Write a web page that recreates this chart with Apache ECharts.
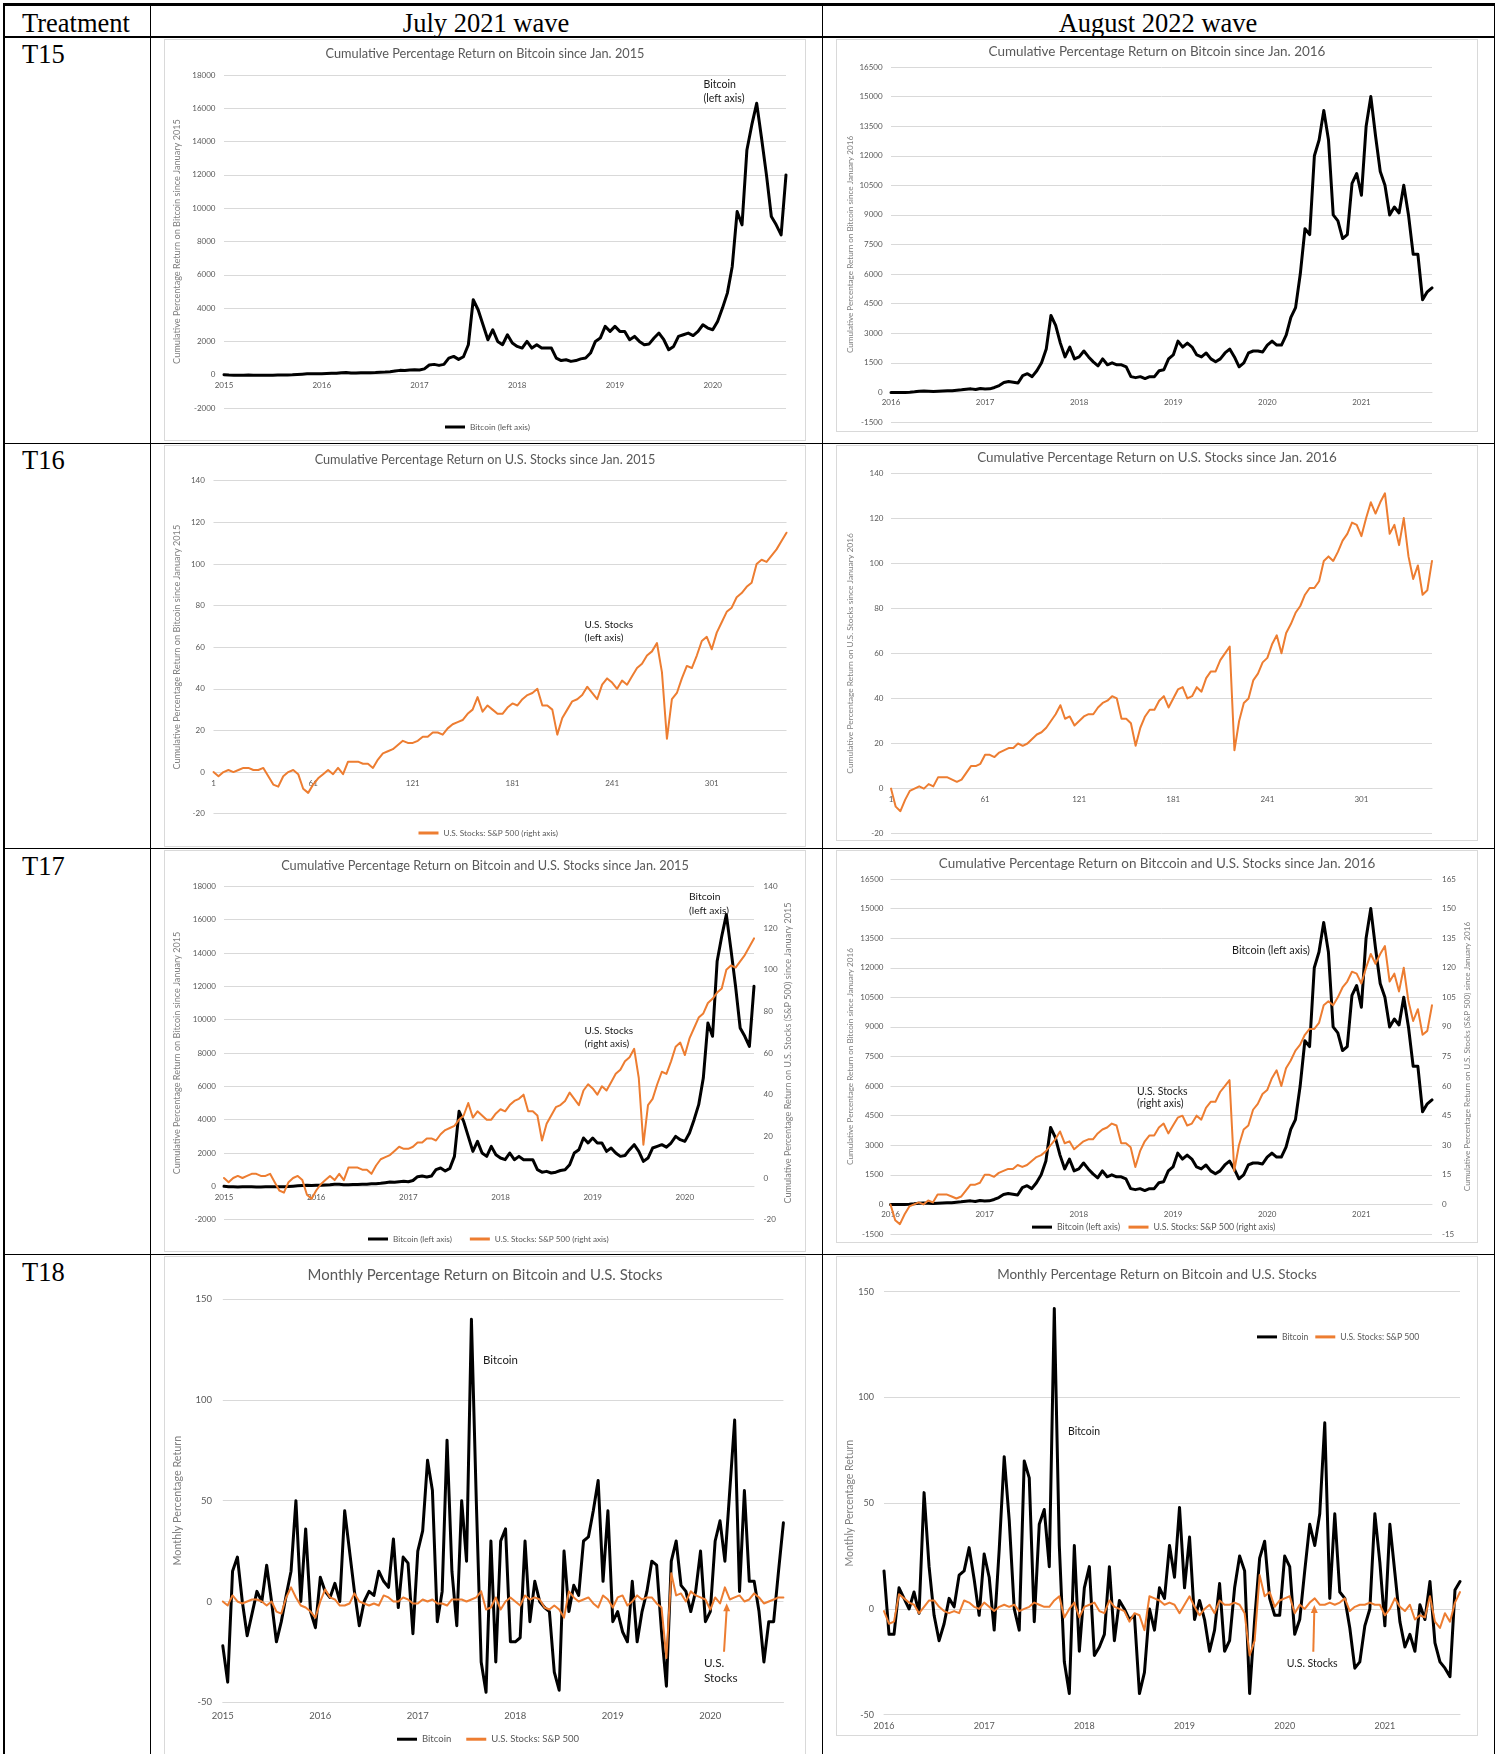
<!DOCTYPE html>
<html><head><meta charset="utf-8"><title>Bitcoin and U.S. Stocks treatments</title>
<script src="https://cdn.jsdelivr.net/npm/echarts@6.0.0/dist/echarts.min.js"></script>
<style>
html,body{margin:0;padding:0;background:#fff;}
body{width:1501px;height:1754px;position:relative;overflow:hidden;font-family:'Liberation Serif','Times New Roman',serif;}
.ln{position:absolute;background:#000;}
.tx{position:absolute;font-size:26.5px;line-height:26.5px;white-space:nowrap;color:#000;}
.bx{position:absolute;border:1px solid #d9d9d9;box-sizing:border-box;pointer-events:none;}
</style></head><body>
<div class="ln" style="left:3px;top:3px;width:1492px;height:3px"></div>
<div class="ln" style="left:3px;top:36px;width:1492px;height:1.5px"></div>
<div class="ln" style="left:3px;top:442.5px;width:1492px;height:1.5px"></div>
<div class="ln" style="left:3px;top:847.5px;width:1492px;height:1.5px"></div>
<div class="ln" style="left:3px;top:1253.5px;width:1492px;height:1.5px"></div>
<div class="ln" style="left:3px;top:3px;width:1.5px;height:1751px"></div>
<div class="ln" style="left:149.5px;top:3px;width:1.5px;height:1751px"></div>
<div class="ln" style="left:821.5px;top:3px;width:1.5px;height:1751px"></div>
<div class="ln" style="left:1493.5px;top:3px;width:1.5px;height:1751px"></div>
<div class="tx" style="left:22px;top:9.5px">Treatment</div>
<div class="tx" style="left:486px;top:9.5px;transform:translateX(-50%)">July 2021 wave</div>
<div class="tx" style="left:1158px;top:9.5px;transform:translateX(-50%)">August 2022 wave</div>
<div class="tx" style="left:22px;top:40.8px">T15</div>
<div class="tx" style="left:22px;top:447.4px">T16</div>
<div class="tx" style="left:22px;top:852.9px">T17</div>
<div class="tx" style="left:22px;top:1258.9px">T18</div>
<script>
const years2015 = ['2015','2016','2017','2018','2019','2020'];
const years2016 = ['2016','2017','2018','2019','2020','2021'];
const weekTicks = ['1','61','121','181','241','301'];

const btcCum2015 = [
0,-20,-30,-40,-30,-20,-30,-40,-35,-30,-30,-25,-25,-20,-10,10,30,50,60,50,
60,70,80,90,120,130,100,100,110,110,120,130,150,160,180,220,260,250,280,300,
280,350,580,620,560,620,1000,1100,920,1080,1800,4500,3900,3000,2100,2700,2000,1800,2400,1900,
1700,1600,2000,1600,1800,1600,1600,1600,1000,850,900,800,850,950,1000,1300,2000,2200,2900,2600,
2900,2600,2600,2100,2300,2000,1800,1850,2200,2500,2100,1500,1700,2300,2400,2500,2350,2600,3000,2800,
2700,3200,4000,4900,6500,9800,9000,13500,15000,16300,14200,12000,9500,9000,8400,12000];

const btcCum2016 = [
0,0,-10,0,10,30,60,70,60,50,60,70,80,90,110,130,160,180,150,200,
170,180,250,350,500,550,520,480,850,950,800,1100,1500,2200,3900,3400,2500,1800,2300,1700,
1800,2100,1800,1550,1350,1700,1400,1500,1400,1400,1300,800,750,800,700,800,800,1100,1150,1700,
1900,2600,2300,2500,2300,1900,1800,2000,1700,1550,1700,2000,2200,1800,1300,1500,2000,2100,2100,2050,
2400,2600,2400,2400,2900,3800,4300,6000,8300,8000,12000,12800,14300,12800,9000,8700,7800,8000,10600,11100,
10000,13500,15000,13000,11200,10500,9000,9400,9100,10500,9000,7000,7000,4700,5100,5300];

const spxCum2015 = [
0,-2,0,1,0,1,2,2,1,1,2,-2,-6,-7,-2,0,1,-1,-8,-10,
-6,-3,-1,1,-1,2,-1,5,5,5,4,4,2,6,9,10,11,13,15,14,
14,15,17,17,19,19,18,21,23,24,25,28,30,36,29,32,30,28,28,31,
33,32,35,37,38,40,32,32,30,18,26,30,34,35,37,41,38,35,42,45,
43,40,44,42,46,50,52,56,58,62,48,16,35,38,45,51,50,56,63,65,
59,67,72,77,79,84,86,89,91,100,102,101,104,107,111,115];

const spxCum2016 = [
0,-8,-10,-5,-1,0,1,0,2,1,5,5,5,4,3,4,7,10,10,11,
15,15,14,16,17,18,18,20,19,20,22,24,25,27,30,33,37,31,32,28,
30,32,33,33,36,38,39,41,40,31,31,29,19,27,32,35,35,39,41,36,
40,44,45,40,41,45,43,49,52,52,57,60,63,17,30,38,40,48,51,56,
58,64,68,60,69,73,78,81,86,89,89,92,101,103,101,105,110,113,118,117,
112,120,127,122,127,131,113,117,108,120,103,93,99,86,88,101];

const btcMon2015 = [
-22,-40,15,22,0,-17,-6,5,0,18,0,-20,-10,3,15,50,0,36,-5,-13,
12,5,2,9,0,45,25,5,-12,0,5,3,15,10,7,31,-3,22,19,-16,
25,35,70,55,-10,5,80,15,-12,50,20,140,50,-30,-45,30,-30,30,36,-20,
-20,-18,30,-10,10,0,-3,-5,-35,-44,25,-5,8,3,30,32,45,60,10,45,
-10,-5,-15,-20,10,-20,-5,5,20,18,-15,-42,20,30,8,5,-5,5,25,-10,
-5,30,40,20,55,90,5,55,10,10,-5,-30,-10,-10,15,39];

const spxMon2015 = [
0,-2,3,0,-1,0,1,1,0,-2,0,-5,-6,2,7,2,-2,-3,-5,-8,
0,6,2,1,-2,-2,-1,4,0,-1,-2,-1,-2,3,2,0,0,2,1,-1,
-1,1,0,1,-1,-1,-2,1,1,1,0,1,2,5,-4,-3,2,-4,0,2,
0,-2,3,1,2,1,-3,-4,-2,-4,-8,5,2,0,1,2,-1,-3,3,1,
-3,2,3,-2,0,3,1,2,2,-1,-3,-28,14,3,4,0,5,3,2,1,
-4,2,-1,7,1,2,3,0,1,4,2,-1,0,1,2,2];

const btcMon2016 = [
18,-12,-12,10,5,0,8,-2,55,20,-3,-15,-7,5,1,16,18,29,14,-3,
26,15,-10,28,72,42,0,-10,70,62,-6,40,47,20,142,30,-25,-40,30,-20,
10,20,-22,-18,-12,20,-15,4,0,-5,-3,-40,-30,0,-10,10,5,30,15,48,
10,34,-5,4,-5,-20,-10,12,-20,-15,10,25,18,-40,-5,24,32,5,-3,-3,
25,20,-12,-5,18,40,30,45,88,5,45,8,5,-9,-28,-25,-8,0,45,22,
-8,40,17,-6,-18,-12,-20,2,-5,13,-16,-25,-28,-32,9,13];

const spxMon2016 = [
-1,-7,-6,7,5,3,2,-2,1,4,4,1,-1,-2,-1,-2,4,3,1,0,
3,1,-1,1,2,1,2,-1,0,1,3,2,1,1,4,6,-4,0,3,-4,
1,2,3,-1,-2,4,1,0,-1,-6,-2,-3,-10,6,5,4,2,3,2,-2,
2,6,1,-3,0,2,-2,4,2,2,3,2,-2,-22,-15,16,6,8,1,4,
5,6,-2,2,0,3,5,2,2,3,2,3,5,-1,1,2,2,3,2,2,
-3,0,5,1,-1,2,-5,-3,-4,6,-6,-9,-2,-6,3,8];

// week numbers of the samples (every 3rd week from week 1)
const weeks = btcCum2015.map((_, k) => String(1 + 3 * k));

// ---------- styles ----------
const GRAY = '#595959', GRIDC = '#d9d9d9', ORANGE = '#ED7D31', BLACK = '#000000', NAMEC = '#7f7f7f';
const FONT = 'Lato';
const fitCtx = document.createElement('canvas').getContext('2d');
function fit(text, width) {
  fitCtx.font = '100px ' + FONT;
  return +(width * 100 / fitCtx.measureText(text).width).toFixed(2);
}

const yBtc15 = 'Cumulative Percentage Return on Bitcoin since January 2015';
const yBtc16 = 'Cumulative Percentage Return on Bitcoin since January 2016';
const ySpx16 = 'Cumulative Percentage Return on U.S. Stocks since January 2016';
const ySpxR15 = 'Cumulative Percentage Return on U.S. Stocks (S&P 500) since January 2015';
const ySpxR16 = 'Cumulative Percentage Return on U.S. Stocks (S&P 500) since January 2016';
const yMon = 'Monthly Percentage Return';
const L_BTC = 'Bitcoin (left axis)', L_SPX = 'U.S. Stocks: S&P 500 (right axis)';

const specs = [
 { box:[164,39,642,402], grid:[60,36,562,333], axFs:8, xLabels:years2015, onZero:true, xMargin:7,
   title:'Cumulative Percentage Return on Bitcoin since Jan. 2015', titleW:319, titleY:14.7,
   y:[{min:-2000,max:18000,int:2000,margin:8.5,name:yBtc15,nameW:245,nameC:47}],
   series:[{name:L_BTC,data:btcCum2015,color:BLACK,width:3,y:0}],
   legend:{left:281,cy:388,gap:10,fitText:L_BTC,fitW:60},
   notes:[{text:'Bitcoin\n(left axis)',x:539.5,y:38.7,lh:14,fitText:'(left axis)',fitW:41}] },
 { box:[836,39,642,393], grid:[55,28,541,355], axFs:8, xLabels:years2016, onZero:true, xMargin:6,
   title:'Cumulative Percentage Return on Bitcoin since Jan. 2016', titleW:337, titleY:13,
   y:[{min:-1500,max:16500,int:1500,margin:8.4,name:yBtc16,nameW:218,nameC:41}],
   series:[{name:'Bitcoin',data:btcCum2016,color:BLACK,width:3,y:0}],
   notes:[] },
 { box:[164,445,642,402], grid:[49.5,35.7,573,333], axFs:8, xLabels:weekTicks, onZero:true, xMargin:7,
   title:'Cumulative Percentage Return on U.S. Stocks since Jan. 2015', titleW:341, titleY:14.7,
   y:[{min:-20,max:140,int:20,margin:8.7,name:yBtc15,nameW:245,nameC:36.5}],
   series:[{name:L_SPX,data:spxCum2015,color:ORANGE,width:2,y:0}],
   legend:{left:254.5,cy:388,gap:10,fitText:L_SPX,fitW:114.6},
   notes:[{text:'U.S. Stocks\n(left axis)',x:420.6,y:173,lh:13.3,fitText:'U.S. Stocks',fitW:48.5}] },
 { box:[836,445,642,396], grid:[55,28,541,360.7], axFs:8, xLabels:weekTicks, onZero:true, xMargin:7,
   title:'Cumulative Percentage Return on U.S. Stocks since Jan. 2016', titleW:360, titleY:13,
   y:[{min:-20,max:140,int:20,margin:7.5,name:ySpx16,nameW:241,nameC:41}],
   series:[{name:'U.S. Stocks',data:spxCum2016,color:ORANGE,width:2,y:0}],
   notes:[] },
 { box:[164,850,642,402], grid:[60,36.3,530,333.4], axFs:8, xLabels:years2015, onZero:true, xMargin:7.5,
   title:'Cumulative Percentage Return on Bitcoin and U.S. Stocks since Jan. 2015', titleW:408, titleY:16,
   y:[{min:-2000,max:18000,int:2000,margin:8,name:yBtc15,nameW:243,nameC:47},
      {min:-20,max:140,int:20,margin:9.6,name:ySpxR15,nameW:301,nameC:34.5}],
   series:[{name:L_BTC,data:btcCum2015,color:BLACK,width:3,y:0},{name:L_SPX,data:spxCum2015,color:ORANGE,width:2,y:1}],
   legend:{left:204,cy:389,gap:18,fitText:L_SPX,fitW:114},
   notes:[{text:'Bitcoin\n(left axis)',x:525,y:40.5,lh:13.3,fitText:'(left axis)',fitW:40},
          {text:'U.S. Stocks\n(right axis)',x:420.6,y:174,lh:13.3,fitText:'U.S. Stocks',fitW:48.5}] },
 { box:[836,850,642,393], grid:[54.5,29,541.5,355], axFs:8, xLabels:years2016, onZero:true, xMargin:6,
   title:'Cumulative Percentage Return on Bitccoin and U.S. Stocks since Jan. 2016', titleW:437, titleY:14,
   y:[{min:-1500,max:16500,int:1500,margin:7,name:yBtc16,nameW:217,nameC:40.5},
      {min:-15,max:165,int:15,margin:10,name:ySpxR16,nameW:270,nameC:35}],
   series:[{name:L_BTC,data:btcCum2016,color:BLACK,width:3,y:0},{name:L_SPX,data:spxCum2016,color:ORANGE,width:2,y:1}],
   legend:{left:196,cy:377,gap:8.5,fitText:L_SPX,fitW:122},
   notes:[{text:'Bitcoin (left axis)',x:396,y:101,fitText:'Bitcoin (left axis)',fitW:78},
          {text:'U.S. Stocks\n(right axis)',x:301,y:235.5,lh:12.3,fitText:'U.S. Stocks',fitW:50.6}] },
 { box:[164,1256,642,500], grid:[58.8,43,560.6,403.3], axFs:9.5, xLabels:years2015, onZero:false, xMargin:8.5,
   title:'Monthly Percentage Return on Bitcoin and U.S. Stocks', titleW:355, titleY:18.7,
   y:[{min:-50,max:150,int:50,margin:10.8,name:yMon,nameW:130,nameC:44.8}],
   series:[{name:'Bitcoin',data:btcMon2015,color:BLACK,width:3,y:0},{name:'U.S. Stocks: S&P 500',data:spxMon2015,color:ORANGE,width:2,y:0}],
   legend:{left:233,cy:483,gap:15,fitText:'U.S. Stocks: S&P 500',fitW:88},
   notes:[{text:'Bitcoin',x:319,y:104,fitText:'Bitcoin',fitW:35},
          {text:'U.S.\nStocks',x:540,y:399.5,lh:15,fitText:'Stocks',fitW:33.5}],
   arrows:[[560,395.7,562.7,347.3]] },
 { box:[836,1256,642,480], grid:[48,35.7,576,423], axFs:9, xLabels:years2016, onZero:false, xMargin:7.3,
   title:'Monthly Percentage Return on Bitcoin and U.S. Stocks', titleW:320, titleY:18.7,
   y:[{min:-50,max:150,int:50,margin:10,name:yMon,nameW:127,nameC:34}],
   series:[{name:'Bitcoin',data:btcMon2016,color:BLACK,width:3,y:0},{name:'U.S. Stocks: S&P 500',data:spxMon2016,color:ORANGE,width:2,y:0}],
   legend:{left:421,cy:80.7,gap:7,fitText:'U.S. Stocks: S&P 500',fitW:79},
   notes:[{text:'Bitcoin',x:232,y:175.3,fitText:'Bitcoin',fitW:32},
          {text:'U.S. Stocks',x:450.7,y:408,fitText:'U.S. Stocks',fitW:51}],
   arrows:[[477.3,395.7,478.3,349]] }
];

function makeChart(c) {
  const [bx, by, bw, bh] = c.box;
  const holder = document.createElement('div');
  holder.style.cssText = `position:absolute;left:${bx}px;top:${by}px;width:${bw}px;height:${bh}px;`;
  document.body.appendChild(holder);
  const border = document.createElement('div');
  border.className = 'bx';
  border.style.cssText = `left:${bx}px;top:${by}px;width:${bw}px;height:${bh}px;`;
  document.body.appendChild(border);

  const chart = echarts.init(holder, null, {renderer:'canvas', width:bw, height:bh});
  const titleFs = fit(c.title, c.titleW);
  const yAxis = c.y.map((y, i) => {
    const nfs = fit(y.name, y.nameW);
    return {
      type:'value', min:y.min, max:y.max, interval:y.int, position: i === 0 ? 'left' : 'right',
      axisLine:{show:false}, axisTick:{show:false},
      splitLine:{show: i === 0, lineStyle:{color:GRIDC, width:1}},
      axisLabel:{color:GRAY, fontSize:c.axFs, fontFamily:FONT, margin:y.margin, formatter:v => String(v)},
      name:y.name, nameLocation:'middle', nameRotate:90, nameMoveOverlap:false,
      nameGap: y.nameC - nfs / 2,
      nameTextStyle:{color:NAMEC, fontSize:nfs, fontFamily:FONT}
    };
  });
  // the category axis sits on the zero line of the first value axis
  const y0 = c.y[0];
  const zeroOffset = c.onZero ? c.grid[3] * (0 - y0.min) / (y0.max - y0.min) : 0;
  const series = c.series.map(s => ({
    type:'line', name:s.name, data:s.data, yAxisIndex:s.y, symbol:'none', showSymbol:false,
    lineStyle:{color:s.color, width:s.width, cap:'round', join:'round'},
    itemStyle:{color:s.color}, emphasis:{disabled:true}, silent:true, animation:false
  }));
  const graphic = [];
  (c.notes || []).forEach(n => {
    const fs = fit(n.fitText, n.fitW);
    graphic.push({type:'text', x:n.x, y:n.y, z:100, silent:true,
      style:{text:n.text, fontSize:fs, fontFamily:FONT, fill:'#1a1a1a', align:'left',
             verticalAlign: n.lh ? 'top' : 'middle', lineHeight: n.lh || fs}});
  });
  (c.arrows || []).forEach(a => {
    const [x1, y1, x2, y2] = a;
    graphic.push({type:'line', z:100, silent:true, shape:{x1, y1, x2, y2:y2 + 6},
      style:{stroke:ORANGE, lineWidth:2}});
    graphic.push({type:'polygon', z:100, silent:true,
      shape:{points:[[x2, y2], [x2 - 3.5, y2 + 8], [x2 + 3.5, y2 + 8]]}, style:{fill:ORANGE}});
  });
  const opt = {
    animation:false,
    textStyle:{fontFamily:FONT},
    title:{text:c.title, left:'center', top:c.titleY - titleFs / 2, padding:0,
      textStyle:{fontSize:titleFs, fontWeight:'normal', color:GRAY, fontFamily:FONT, lineHeight:titleFs}},
    grid:{left:c.grid[0], top:c.grid[1], width:c.grid[2], height:c.grid[3], containLabel:false, outerBoundsMode:'none'},
    xAxis:{type:'category', data:weeks, boundaryGap:false, position:'bottom', offset:-zeroOffset,
      axisLine:{show:true, onZero:false, lineStyle:{color:GRIDC, width:1}},
      axisTick:{show:false}, splitLine:{show:false},
      axisLabel:{interval:19, color:GRAY, fontSize:c.axFs, fontFamily:FONT, margin:c.xMargin,
        formatter:(v, i) => (i % 20 === 0 ? (c.xLabels[i / 20] || '') : '')}},
    yAxis, series, graphic
  };
  if (c.legend) {
    const lfs = fit(c.legend.fitText, c.legend.fitW);
    opt.legend = {left:c.legend.left, top:c.legend.cy - lfs / 2, padding:0, orient:'horizontal',
      itemWidth:20, itemHeight:3, itemGap:c.legend.gap, icon:'rect', selectedMode:false,
      textStyle:{fontSize:lfs, color:GRAY, fontFamily:FONT, lineHeight:lfs},
      data:c.series.map(s => s.name)};
  }
  chart.setOption(opt);
}
specs.forEach(makeChart);
</script>
</body></html>
